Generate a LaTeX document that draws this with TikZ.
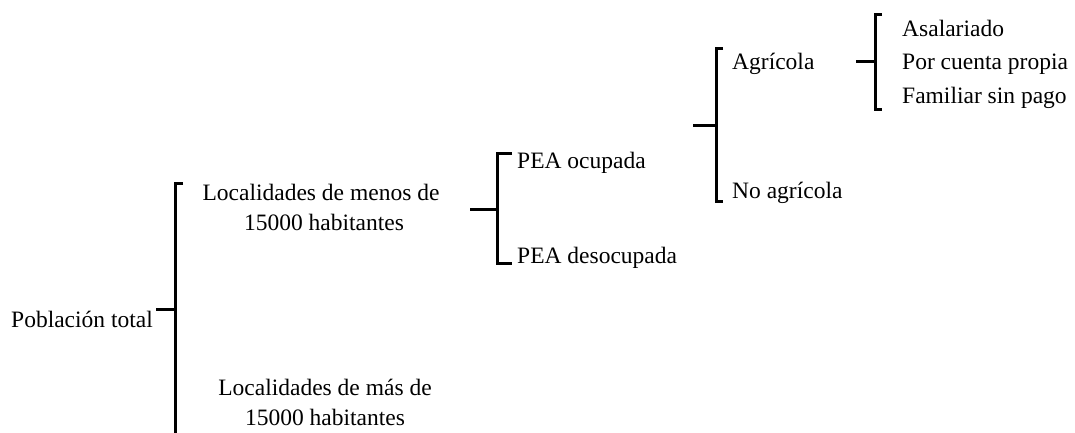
\documentclass[tikz,border=0pt]{standalone}
\usepackage{fontspec}
\setmainfont{Liberation Serif}
\newfontfamily\tnrfont{Liberation Serif}
\begin{document}
\begin{tikzpicture}[x=1pt,y=-1pt,
  lbl/.style={inner sep=0pt, anchor=base west, font=\tnrfont\fontsize{23.5}{28}\selectfont},
  clbl/.style={lbl, anchor=base},
  brace/.style={line width=3pt}]
\useasboundingbox (0,0) rectangle (1075,433);
% texts
\node[lbl] (pob) at (11,327) {Población total};
\node[clbl] (loc1a) at (321,200) {Localidades de menos de};
\node[clbl] (loc1b) at (324,230) {15000 habitantes};
\node[clbl] (loc2a) at (325,395) {Localidades de más de};
\node[clbl] (loc2b) at (325,425) {15000 habitantes};
\node[lbl] (ocu) at (517,168) {PEA ocupada};
\node[lbl] (des) at (517,263) {PEA desocupada};
\node[lbl] (agr) at (732,70) {Agrícola};
\node[lbl] (noagr) at (732,198) {No agrícola};
\node[lbl] (asa) at (902,37) {Asalariado};
\node[lbl] (cta) at (902,70) {Por cuenta propia};
\node[lbl] (fam) at (902,103) {Familiar sin pago};
% brace coordinates
\coordinate (b1s) at (156,309);
\coordinate (b1m) at (175,309);
\coordinate (b1t) at (175,183);
\coordinate (b1b) at (175,440);
\coordinate (b2s) at (470,209);
\coordinate (b2m) at (497,209);
\coordinate (b2t) at (497,153);
\coordinate (b2b) at (497,263);
\coordinate (b3s) at (693,125);
\coordinate (b3m) at (716,125);
\coordinate (b3t) at (716,49);
\coordinate (b3b) at (716,201);
\coordinate (b4s) at (856,62);
\coordinate (b4m) at (875,62);
\coordinate (b4t) at (875,15);
\coordinate (b4b) at (875,110);
% braces
\draw[brace] (b1s) -- (b1m);
\draw[brace] ([xshift=8pt]b1t) -- (b1t) -- (b1b);
\draw[brace] (b2s) -- (b2m);
\draw[brace] ([xshift=15pt]b2t) -- (b2t) -- (b2b) -- ([xshift=15pt]b2b);
\draw[brace] (b3s) -- (b3m);
\draw[brace] ([xshift=7pt]b3t) -- (b3t) -- (b3b) -- ([xshift=7pt]b3b);
\draw[brace] (b4s) -- (b4m);
\draw[brace] ([xshift=7pt]b4t) -- (b4t) -- (b4b) -- ([xshift=7pt]b4b);
\end{tikzpicture}
\end{document}
